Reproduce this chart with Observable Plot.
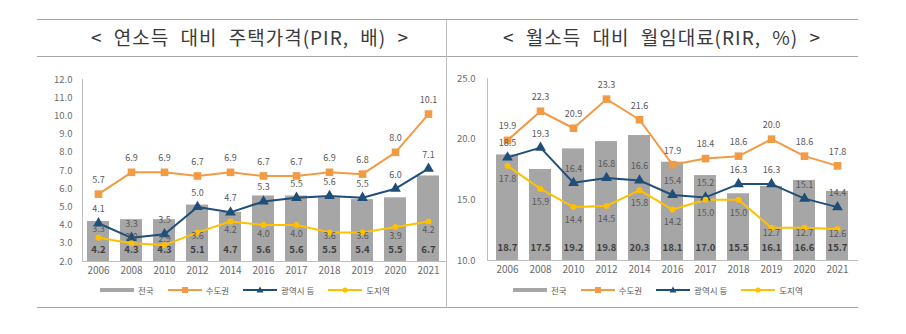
<!DOCTYPE html>
<html>
<head>
<meta charset="utf-8">
<script src="https://cdn.jsdelivr.net/npm/d3@7"></script>
<script src="https://cdn.jsdelivr.net/npm/@observablehq/plot@0.6"></script>
<style>
  html, body { margin: 0; padding: 0; background: #fff; }
  body { width: 906px; height: 334px; position: relative; overflow: hidden;
         font-family: "Noto Sans CJK KR", "Noto Sans", sans-serif; }
  .hline { position: absolute; height: 0; border-top: 1.5px solid #a6a6a6; }
  .vline { position: absolute; width: 0; border-left: 1.5px solid #bfbfbf; }
  .title { position: absolute; top: 22px; height: 30px; line-height: 30px; text-align: center;
           font-size: 19px; color: #3a3a3a; letter-spacing: 1px; word-spacing: 6px; white-space: pre; }
  .chart { position: absolute; top: 60px; }
  .legend { position: absolute; top: 284px; display: flex; align-items: center; font-size: 8.5px; color: #595959; }
  .legend .item { display: flex; align-items: center; margin-right: 14px; }
  .legend svg { margin-right: 4px; }
</style>
</head>
<body>
<div class="hline" style="left:37px; width:821px; top:19px;"></div>
<div class="hline" style="left:37px; width:821px; top:56px;"></div>
<div class="hline" style="left:37px; width:821px; top:307px;"></div>
<div class="vline" style="left:446px; top:20px; height:288px;"></div>
<div class="title" style="left:45px; width:410px;">&lt; 연소득 대비 주택가격(PIR, 배) &gt;</div>
<div class="title" style="left:457px; width:410px;">&lt; 월소득 대비 월임대료(RIR, %) &gt;</div>
<div id="left" class="chart" style="left:37px;"></div>
<div id="right" class="chart" style="left:453px;"></div>
<div id="legendLeft" class="legend" style="left:100px;"></div>
<div id="legendRight" class="legend" style="left:513px;"></div>
<script>
// ---- data ----
const years = ["2006","2008","2010","2012","2014","2016","2017","2018","2019","2020","2021"];
const seriesNames = ["전국", "수도권", "광역시 등", "도지역"];

const pirNation   = [4.2, 4.3, 4.3, 5.1, 4.7, 5.6, 5.6, 5.5, 5.4, 5.5, 6.7];
const pirCapital  = [5.7, 6.9, 6.9, 6.7, 6.9, 6.7, 6.7, 6.9, 6.8, 8.0, 10.1];
const pirMetro    = [4.1, 3.3, 3.5, 5.0, 4.7, 5.3, 5.5, 5.6, 5.5, 6.0, 7.1];
const pirProvince = [3.3, 3.0, 2.9, 3.6, 4.2, 4.0, 4.0, 3.6, 3.6, 3.9, 4.2];
const pirTicks = [2, 3, 4, 5, 6, 7, 8, 9, 10, 11, 12];

const rirNation   = [18.7, 17.5, 19.2, 19.8, 20.3, 18.1, 17.0, 15.5, 16.1, 16.6, 15.7];
const rirCapital  = [19.9, 22.3, 20.9, 23.3, 21.6, 17.9, 18.4, 18.6, 20.0, 18.6, 17.8];
const rirMetro    = [18.5, 19.3, 16.4, 16.8, 16.6, 15.4, 15.2, 16.3, 16.3, 15.1, 14.4];
const rirProvince = [17.8, 15.9, 14.4, 14.5, 15.8, 14.2, 15.0, 15.0, 12.7, 12.7, 12.6];
const rirTicks = [10, 15, 20, 25];

// ---- styles ----
const colors = { nation: "#a6a6a6", capital: "#f39a45", metro: "#1f4e79", province: "#ffc000" };
const labelColor = "#595959";
const FONT = '"Noto Sans CJK KR", "Noto Sans", sans-serif';

function makeChart(cfg) {
  const rows = years.map((year, i) => ({
    year, nation: cfg.nation[i], capital: cfg.capital[i], metro: cfg.metro[i], province: cfg.province[i]
  }));
  const base = cfg.ticks[0];
  const fmt = v => v.toFixed(1);
  const provGroups = cfg.provinceDy.map(([test, dy]) => ({ dy, data: rows.filter(d => test(d.province)) }));
  const svg = Plot.plot({
    width: cfg.width, height: cfg.height,
    marginLeft: cfg.marginLeft, marginRight: cfg.marginRight,
    marginTop: cfg.marginTop, marginBottom: cfg.marginBottom,
    style: { fontFamily: FONT, fontSize: "10px", color: "#bfbfbf", background: "transparent", overflow: "visible" },
    x: { type: "band", domain: years, paddingInner: 0.33, paddingOuter: 0.15, label: null,
         tickSize: 0, tickPadding: 5, line: true },
    y: { domain: [cfg.ticks[0], cfg.ticks[cfg.ticks.length - 1]], ticks: cfg.ticks, tickFormat: fmt,
         label: null, tickSize: 0, tickPadding: cfg.yPad, line: true },
    marks: [
      Plot.barY(rows, { x: "year", y1: () => base, y2: "nation", fill: colors.nation }),
      Plot.line(rows, { x: "year", y: "capital", stroke: colors.capital, strokeWidth: 2 }),
      Plot.line(rows, { x: "year", y: "metro", stroke: colors.metro, strokeWidth: 2 }),
      Plot.line(rows, { x: "year", y: "province", stroke: colors.province, strokeWidth: 2 }),
      Plot.dot(rows, { x: "year", y: "capital", symbol: "square", r: 4.3, fill: colors.capital, stroke: "none" }),
      Plot.dot(rows, { x: "year", y: "metro", symbol: "triangle", r: 4, fill: colors.metro, stroke: "none" }),
      Plot.dot(rows, { x: "year", y: "province", symbol: "circle", r: 3, fill: colors.province, stroke: "none" }),
      Plot.text(rows, { x: "year", text: d => fmt(d.nation), frameAnchor: "bottom", dy: cfg.barDy,
                        fill: "#3f3f3f", fontSize: 9.5, fontWeight: 600 }),
      Plot.text(rows, { x: "year", y: "capital", text: d => fmt(d.capital), dy: -14, fill: labelColor, fontSize: 9 }),
      Plot.text(rows, { x: "year", y: "metro", text: d => fmt(d.metro), dy: -14, fill: labelColor, fontSize: 9 }),
      ...provGroups.map(g => Plot.text(g.data, { x: "year", y: "province", text: d => fmt(d.province),
                                                 dy: g.dy, fill: labelColor, fontSize: 9 }))
    ]
  });
  svg.querySelectorAll('g[aria-label^="x-axis"] text, g[aria-label^="y-axis"] text').forEach(t => {
    t.setAttribute("fill", "#6b6b6b");
  });
  svg.querySelectorAll('g[aria-label^="y-axis"] text').forEach(t => t.setAttribute("font-size", "9.5"));
  return svg;
}

document.getElementById("left").appendChild(makeChart({
  nation: pirNation, capital: pirCapital, metro: pirMetro, province: pirProvince, ticks: pirTicks,
  width: 410, height: 223, marginLeft: 45, marginRight: 2, marginTop: 19, marginBottom: 22,
  yPad: 10, barDy: -9,
  provinceDy: [[v => v < 3.1, -6], [v => v >= 3.1 && v < 3.5, -9], [v => v >= 3.5 && v < 3.8, 4], [v => v >= 3.8, 9]]
}));
document.getElementById("right").appendChild(makeChart({
  nation: rirNation, capital: rirCapital, metro: rirMetro, province: rirProvince, ticks: rirTicks,
  width: 406, height: 222, marginLeft: 34, marginRight: 2, marginTop: 18, marginBottom: 22,
  yPad: 12, barDy: -10,
  provinceDy: [[v => v < 13, 5], [v => v >= 13, 13]]
}));

// ---- legends ----
const legendItems = [
  { name: seriesNames[0], color: colors.nation, symbol: null, thick: 4 },
  { name: seriesNames[1], color: colors.capital, symbol: "square", thick: 2 },
  { name: seriesNames[2], color: colors.metro, symbol: "triangle", thick: 2 },
  { name: seriesNames[3], color: colors.province, symbol: "circle", thick: 2 }
];
function swatch(it) {
  const w = 34, h = 10, cx = w / 2, cy = h / 2;
  let sym = "";
  if (it.symbol === "square") sym = `<rect x="${cx-3}" y="${cy-3}" width="6" height="6" fill="${it.color}"/>`;
  if (it.symbol === "triangle") sym = `<path d="M${cx},${cy-3.5}L${cx+3.5},${cy+2.5}L${cx-3.5},${cy+2.5}Z" fill="${it.color}"/>`;
  if (it.symbol === "circle") sym = `<circle cx="${cx}" cy="${cy}" r="2.6" fill="${it.color}"/>`;
  return `<svg width="${w}" height="${h}"><line x1="0" x2="${w}" y1="${cy}" y2="${cy}" stroke="${it.color}" stroke-width="${it.thick}"/>${sym}</svg>`;
}
for (const id of ["legendLeft", "legendRight"]) {
  document.getElementById(id).innerHTML = legendItems.map(it =>
    `<div class="item">${swatch(it)}<span>${it.name}</span></div>`).join("");
}
</script>
</body>
</html>
